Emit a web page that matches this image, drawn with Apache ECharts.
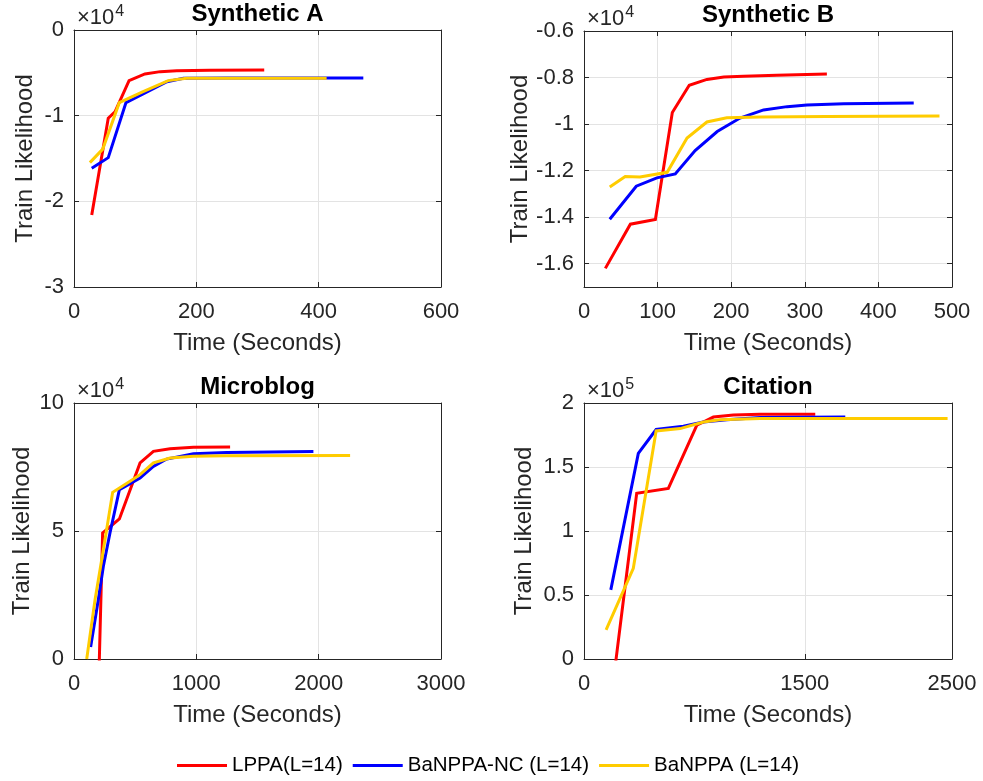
<!DOCTYPE html>
<html><head><meta charset="utf-8">
<script src="https://cdn.jsdelivr.net/npm/echarts@6/dist/echarts.min.js"></script>
<style>html,body{margin:0;padding:0;background:#fff}#c{width:983px;height:781px}</style>
</head><body><div id="c"></div>
<script>
const seriesNames = ['LPPA(L=14)', 'BaNPPA-NC (L=14)', 'BaNPPA (L=14)'];
const seriesColors = ['#ff0000', '#0000ff', '#ffcc00'];
const panelTitles = ['Synthetic A', 'Synthetic B', 'Microblog', 'Citation'];
const panelExponents = ['4', '4', '4', '5'];

// Synthetic A (x10^4)
const timeA_LPPA = [29, 56, 67, 90, 116, 141, 168, 222, 311];
const likeA_LPPA = [-2.16, -1.03, -0.955, -0.59, -0.513, -0.486, -0.475, -0.47, -0.467];
const timeA_NC = [29, 56, 85, 113, 152, 179, 250, 473];
const likeA_NC = [-1.614, -1.49, -0.848, -0.747, -0.603, -0.564, -0.56, -0.56];
const timeA_BaN = [26, 47, 74, 113, 154, 184, 413];
const likeA_BaN = [-1.548, -1.39, -0.848, -0.72, -0.591, -0.564, -0.564];

// Synthetic B (x10^4)
const timeB_LPPA = [29, 63, 97, 120, 143, 167, 190, 217, 262, 330];
const likeB_LPPA = [-1.62, -1.43, -1.41, -0.95, -0.833, -0.808, -0.798, -0.794, -0.79, -0.785];
const timeB_NC = [35, 71, 99, 124, 151, 181, 212, 244, 276, 303, 353, 448];
const likeB_NC = [-1.409, -1.267, -1.231, -1.214, -1.114, -1.032, -0.974, -0.939, -0.925, -0.918, -0.913, -0.909];
const timeB_BaN = [35, 56, 76, 113, 140, 167, 194, 240, 330, 483];
const likeB_BaN = [-1.27, -1.225, -1.227, -1.207, -1.06, -0.991, -0.973, -0.969, -0.967, -0.965];

// Microblog (x10^4)
const timeC_LPPA = [200, 234, 371, 540, 649, 785, 976, 1276];
const likeC_LPPA = [-1.3, 4.92, 5.47, 7.66, 8.11, 8.21, 8.27, 8.28];
const timeC_NC = [136, 199, 240, 294, 371, 444, 540, 649, 758, 976, 1248, 1957];
const likeC_NC = [0.47, 2.32, 3.62, 4.92, 6.61, 6.81, 7.07, 7.52, 7.81, 8.02, 8.07, 8.11];
const timeC_BaN = [104, 172, 240, 316, 458, 540, 649, 785, 976, 1248, 2257];
const likeC_BaN = [0, 2.32, 4.27, 6.51, 6.94, 7.2, 7.66, 7.85, 7.92, 7.94, 7.95];

// Citation (x10^5)
const timeD_LPPA = [205, 358, 573, 766, 879, 1015, 1197, 1571];
const likeD_LPPA = [-0.12, 1.294, 1.333, 1.826, 1.89, 1.907, 1.912, 1.912];
const timeD_NC = [182, 369, 490, 675, 811, 970, 1197, 1775];
const likeD_NC = [0.54, 1.606, 1.793, 1.818, 1.852, 1.87, 1.886, 1.89];
const timeD_BaN = [150, 335, 490, 653, 811, 925, 1197, 2470];
const likeD_BaN = [0.228, 0.709, 1.782, 1.80, 1.852, 1.87, 1.878, 1.878];

// Tick labels
const xTicksA = [0, 200, 400, 600];
const yTicksA = [-3, -2, -1, 0];
const xTicksB = [0, 100, 200, 300, 400, 500];
const yTicksB = [-1.6, -1.4, -1.2, -1, -0.8, -0.6];
const xTicksC = [0, 1000, 2000, 3000];
const yTicksC = [0, 5, 10];
const xTicksD = [0, 1500, 2500];
const yTicksD = [0, 0.5, 1, 1.5, 2];

const FONT = '"Liberation Sans", Arial, Helvetica, sans-serif';
const INK = '#262626';
const GRIDC = '#e3e3e3';

const panels = [
  { grid: {left: 74, top: 30, width: 367, height: 257}, x: [0, 600], y: [-3, 0], xt: xTicksA, yt: yTicksA, yGap: 37,
    data: [[timeA_LPPA, likeA_LPPA], [timeA_NC, likeA_NC], [timeA_BaN, likeA_BaN]] },
  { grid: {left: 584, top: 31, width: 368, height: 256}, x: [0, 500], y: [-1.7, -0.6], xt: xTicksB, yt: yTicksB, yGap: 51,
    data: [[timeB_LPPA, likeB_LPPA], [timeB_NC, likeB_NC], [timeB_BaN, likeB_BaN]] },
  { grid: {left: 74, top: 403, width: 367, height: 256}, x: [0, 3000], y: [0, 10], xt: xTicksC, yt: yTicksC, yGap: 40,
    data: [[timeC_LPPA, likeC_LPPA], [timeC_NC, likeC_NC], [timeC_BaN, likeC_BaN]] },
  { grid: {left: 584, top: 403, width: 368, height: 256}, x: [0, 2500], y: [0, 2], xt: xTicksD, yt: yTicksD, yGap: 48,
    data: [[timeD_LPPA, likeD_LPPA], [timeD_NC, likeD_NC], [timeD_BaN, likeD_BaN]] }
];

const grids = [], xAxes = [], yAxes = [], series = [], titles = [], graphics = [];
const fmt = v => String(Math.round(v * 100) / 100);

panels.forEach((p, g) => {
  grids.push(Object.assign({show: false, containLabel: false, outerBoundsMode: 'none'}, p.grid));
  const common = (ticks) => ({
    axisLine: {show: true, onZero: false, lineStyle: {color: INK, width: 1}},
    axisTick: {show: true, inside: true, length: 5, customValues: ticks, lineStyle: {color: INK}},
    minorTick: {show: false}
  });
  xAxes.push(Object.assign(common(p.xt), {
    type: 'value', gridIndex: g, position: 'bottom', min: p.x[0], max: p.x[1],
    axisLabel: {show: true, customValues: p.xt, formatter: fmt, color: INK, fontSize: 22, fontFamily: FONT, margin: 14},
    splitLine: {show: true, lineStyle: {color: GRIDC, width: 1}},
    name: 'Time (Seconds)', nameLocation: 'middle', nameGap: 44,
    nameTextStyle: {color: INK, fontSize: 24, fontFamily: FONT}
  }));
  xAxes.push(Object.assign(common(p.xt), {
    type: 'value', gridIndex: g, position: 'top', min: p.x[0], max: p.x[1],
    axisLabel: {show: false}, splitLine: {show: false}
  }));
  yAxes.push(Object.assign(common(p.yt), {
    type: 'value', gridIndex: g, position: 'left', min: p.y[0], max: p.y[1],
    axisLabel: {show: true, customValues: p.yt, formatter: fmt, color: INK, fontSize: 22, fontFamily: FONT, margin: 10},
    splitLine: {show: true, lineStyle: {color: GRIDC, width: 1}},
    name: 'Train Likelihood', nameLocation: 'middle', nameGap: p.yGap,
    nameTextStyle: {color: INK, fontSize: 24, fontFamily: FONT}
  }));
  yAxes.push(Object.assign(common(p.yt), {
    type: 'value', gridIndex: g, position: 'right', min: p.y[0], max: p.y[1],
    axisLabel: {show: false}, splitLine: {show: false}
  }));
  p.data.forEach((d, k) => {
    series.push({
      type: 'line', name: seriesNames[k], xAxisIndex: 2 * g, yAxisIndex: 2 * g,
      data: d[0].map((t, i) => [t, d[1][i]]),
      showSymbol: false, symbol: 'none', clip: true, z: 2 + k,
      lineStyle: {color: seriesColors[k], width: 3, cap: 'butt', join: 'miter'},
      itemStyle: {color: seriesColors[k]}
    });
  });
  const cx = p.grid.left + p.grid.width / 2;
  titles.push({
    text: panelTitles[g], left: cx, top: p.grid.top - 28, textAlign: 'center', padding: 0,
    textStyle: {fontSize: 24, fontWeight: 'bold', color: '#000', fontFamily: FONT}
  });
  graphics.push({
    type: 'text', left: p.grid.left + 3, top: p.grid.top - 26,
    style: {
      text: '{a|×10}{b|' + panelExponents[g] + '}',
      rich: {
        a: {fontSize: 22, fontFamily: FONT, fill: INK, color: INK},
        b: {fontSize: 16, fontFamily: FONT, fill: INK, color: INK, padding: [0, 0, 11, 1]}
      }
    }
  });
});

const chart = echarts.init(document.getElementById('c'), null, {renderer: 'canvas'});
chart.setOption({
  backgroundColor: '#ffffff',
  animation: false,
  title: titles,
  grid: grids,
  xAxis: xAxes,
  yAxis: yAxes,
  graphic: graphics,
  legend: {
    data: seriesNames, left: 172, top: 750, icon: 'rect', itemWidth: 50, itemHeight: 3, itemGap: 10,
    textStyle: {fontSize: 20.5, fontFamily: FONT, color: '#000'}
  },
  series: series
});
</script></body></html>
